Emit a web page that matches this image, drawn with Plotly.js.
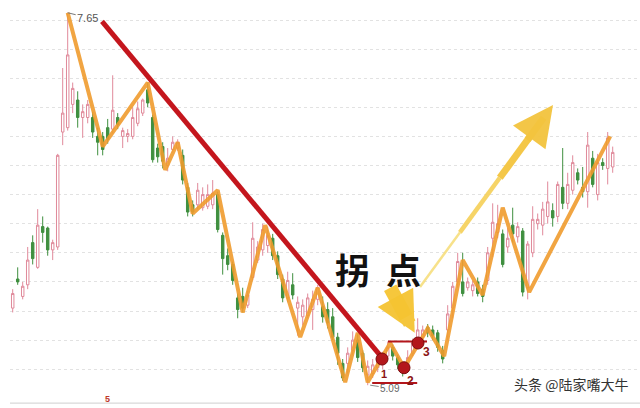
<!DOCTYPE html>
<html><head><meta charset="utf-8">
<script src="https://cdn.plot.ly/plotly-3.0.1.min.js"></script>
<style>html,body{margin:0;padding:0;background:#fff}#c{width:640px;height:408px}</style>
</head><body><div id="c"></div>
<script>
const opens  = [5.62,5.82,5.70,5.78,6.07,5.90,6.18,6.17,6.02,6.04,6.83,6.86,7.02,7.05,6.93,6.93,6.93,6.80,6.80,6.86,6.85,6.93,6.80,6.80,6.80,6.89,6.96,7.12,6.93,6.72,6.73,6.60,6.71,6.72,6.67,6.45,6.33,6.33,6.31,6.32,6.33,6.40,6.12,5.98,5.92,5.69,5.70,5.64,5.83,5.95,6.02,6.05,6.10,5.98,5.82,5.69,5.78,5.62,5.56,5.57,5.61,5.68,5.63,5.61,5.56,5.42,5.24,5.24,5.33,5.40,5.31,5.16,5.17,5.21,5.23,5.29,5.35,5.28,5.21,5.20,5.31,5.38,5.42,5.49,5.47,5.45,5.33,5.47,5.62,5.80,5.80,5.76,5.74,5.80,5.75,5.81,6.10,6.14,6.13,6.04,6.19,6.11,6.15,5.76,6.00,6.20,6.19,6.25,6.29,6.25,6.45,6.34,6.43,6.55,6.45,6.42,6.65,6.40,6.62,6.58,6.59];
const highs  = [5.75,5.90,5.80,6.04,6.12,6.30,6.25,6.18,6.09,6.68,7.27,7.65,7.17,7.11,7.02,7.05,6.97,6.86,6.83,6.92,7.22,6.96,6.86,6.85,7.00,7.04,7.06,7.17,6.95,6.75,6.76,6.72,6.80,6.78,6.71,6.48,6.36,6.48,6.45,6.47,6.50,6.42,6.14,6.03,5.94,5.72,5.76,5.74,6.21,6.08,6.20,6.18,6.13,6.01,5.85,5.87,5.86,5.70,5.68,5.72,5.74,5.78,5.70,5.66,5.62,5.45,5.27,5.35,5.46,5.44,5.33,5.26,5.27,5.30,5.32,5.39,5.37,5.30,5.24,5.33,5.41,5.55,5.50,5.51,5.50,5.47,5.36,5.64,5.80,6.00,6.00,5.83,5.81,5.83,5.78,6.04,6.34,6.33,6.16,6.17,6.31,6.21,6.17,6.08,6.32,6.27,6.35,6.49,6.34,6.49,6.72,6.55,6.67,6.58,6.59,6.83,6.70,6.68,6.65,6.83,6.73];
const lows   = [5.59,5.78,5.68,5.75,5.92,5.89,6.07,5.98,5.95,6.02,6.74,6.84,6.96,6.86,6.79,6.89,6.79,6.67,6.67,6.75,6.82,6.85,6.72,6.76,6.78,6.87,6.94,7.00,6.62,6.62,6.58,6.56,6.69,6.70,6.47,6.25,6.25,6.30,6.29,6.30,6.30,6.14,5.85,5.88,5.78,5.55,5.59,5.62,5.81,5.93,5.98,6.00,5.95,5.82,5.66,5.66,5.68,5.43,5.50,5.55,5.47,5.64,5.52,5.48,5.40,5.23,5.12,5.17,5.30,5.25,5.18,5.09,5.14,5.18,5.20,5.27,5.26,5.20,5.15,5.18,5.29,5.36,5.40,5.42,5.40,5.32,5.24,5.40,5.55,5.76,5.70,5.74,5.70,5.70,5.66,5.78,5.97,6.10,5.90,6.00,6.07,6.07,5.70,5.68,5.97,6.16,6.12,6.20,6.18,6.21,6.30,6.30,6.40,6.47,6.38,6.31,6.45,6.36,6.57,6.47,6.55];
const closes = [5.72,5.80,5.77,5.95,5.96,6.19,6.14,6.02,6.07,6.67,6.96,7.36,7.13,6.93,6.97,7.02,6.83,6.76,6.71,6.78,6.98,6.88,6.84,6.82,6.93,6.99,7.05,7.03,6.64,6.66,6.63,6.65,6.76,6.76,6.50,6.28,6.28,6.43,6.40,6.40,6.41,6.16,5.96,5.92,5.81,5.61,5.62,5.71,6.10,6.04,6.16,6.12,5.98,5.85,5.69,5.81,5.71,5.66,5.64,5.69,5.68,5.76,5.56,5.52,5.42,5.31,5.14,5.31,5.40,5.28,5.21,5.22,5.23,5.26,5.28,5.35,5.29,5.23,5.19,5.28,5.38,5.47,5.47,5.45,5.43,5.35,5.27,5.58,5.77,5.94,5.72,5.80,5.78,5.72,5.70,6.00,6.21,6.20,5.92,6.10,6.13,6.18,5.73,6.06,6.23,6.23,6.30,6.35,6.24,6.47,6.34,6.47,6.62,6.50,6.42,6.74,6.47,6.62,6.60,6.79,6.69];
const days = opens.map((_, i) => i);

// hand-drawn zigzag through swing points
const zigX = [11,18,27,30.5,33,36,41,46,50.5,57.5,61,66.5,69,71,75.5,78.3,83,86.3,90,94,98,103.3,119.5];
const zigY = [7.65,6.73,7.17,6.57,6.76,6.27,6.43,5.59,6.19,5.42,5.76,5.11,5.45,5.11,5.38,5.21,5.48,5.29,5.95,5.71,6.31,5.73,6.80];

// red downtrend line
const trendX = [17.86, 73.86];
const trendY = [7.59, 5.28];

// turning-point markers 1,2,3
const turnX = [73.86, 78.26, 81.06];
const turnY = [5.27, 5.21, 5.38];
const turnLabels = ['1','2','3'];

// rising arrow (tail -> head) and pointing arrow
const riseX = [81.46, 108.06];
const riseY = [5.765, 7.016];
const pointX = [75.5, 80.4];
const pointY = [5.76, 5.45];

const gridVals = [5.2,5.4,5.6,5.8,6.0,6.2,6.4,6.6,6.8,7.0,7.2,7.4,7.6];

function lerp(a, b, t) { return a + (b - a) * t; }
const seg = [0, 0.3, 0.6, 0.93];
const segW = [2.5, 4.5, 7];
const segC = ['rgba(246,222,125,0.9)', 'rgba(245,208,90,0.92)', 'rgba(243,196,62,0.95)'];

const traces = [
  {type:'candlestick', x:days, open:opens, high:highs, low:lows, close:closes,
   increasing:{line:{color:'#e0899a', width:1}, fillcolor:'#ffffff'},
   decreasing:{line:{color:'#3f8f3f', width:1}, fillcolor:'#3f8f3f'},
   whiskerwidth:0, hoverinfo:'skip', showlegend:false},
  {type:'scatter', mode:'lines', x:zigX, y:zigY,
   line:{color:'rgba(240,155,45,0.9)', width:4}, hoverinfo:'skip'},
  {type:'scatter', mode:'lines', x:trendX, y:trendY,
   line:{color:'#c4161d', width:5}, hoverinfo:'skip'},
  {type:'scatter', mode:'lines', x:[75.06,82.86], y:[5.39,5.39],
   line:{color:'#b3161b', width:2}, hoverinfo:'skip'},
  {type:'scatter', mode:'lines', x:[71.9,80.9], y:[5.105,5.105],
   line:{color:'#b3161b', width:2}, hoverinfo:'skip'},
  {type:'scatter', mode:'markers', x:turnX, y:turnY,
   marker:{color:'#b3161b', size:12, line:{color:'#7a0c0c', width:1}}, hoverinfo:'skip'}
];
for (let k = 0; k < 3; k++) {
  traces.push({type:'scatter', mode:'lines',
    x:[lerp(riseX[0], riseX[1], seg[k]), lerp(riseX[0], riseX[1], seg[k+1])],
    y:[lerp(riseY[0], riseY[1], seg[k]), lerp(riseY[0], riseY[1], seg[k+1])],
    line:{color:segC[k], width:segW[k]}, hoverinfo:'skip'});
}
// fat pointing arrow body
traces.push({type:'scatter', mode:'lines', x:[pointX[0], lerp(pointX[0], pointX[1], 0.65)],
  y:[pointY[0], lerp(pointY[0], pointY[1], 0.65)],
  line:{color:'rgba(245,196,50,0.95)', width:14}, hoverinfo:'skip'});

const annotations = [
  {x:11, y:7.65, xref:'x', yref:'y', text:'7.65', showarrow:true, ax:20, ay:5,
   arrowhead:0, arrowwidth:1, arrowcolor:'#777', font:{size:11, color:'#555', family:'Arial'}},
  {x:71.5, y:5.09, xref:'x', yref:'y', text:'5.09', showarrow:true, ax:20, ay:3,
   arrowhead:0, arrowwidth:1, arrowcolor:'#888', font:{size:10, color:'#666', family:'Arial'}},
  {x:73.06, y:5.895, xref:'x', yref:'y', text:'拐  点', showarrow:false,
   font:{size:35, color:'#111', family:'Noto Sans CJK SC', weight:700}},
  {x:74.3, y:5.17, xref:'x', yref:'y', text:turnLabels[0], showarrow:false, font:{size:11, color:'#8b1414', family:'Arial', weight:700}},
  {x:79.5, y:5.12, xref:'x', yref:'y', text:turnLabels[1], showarrow:false, font:{size:12, color:'#8b1414', family:'Arial', weight:700}},
  {x:82.7, y:5.32, xref:'x', yref:'y', text:turnLabels[2], showarrow:false, font:{size:12, color:'#8b1414', family:'Arial', weight:700}},
  {x:pointX[1], y:pointY[1], ax:lerp(pointX[0], pointX[1], 0.3), ay:lerp(pointY[0], pointY[1], 0.3),
   xref:'x', yref:'y', axref:'x', ayref:'y',
   text:'', showarrow:true, arrowhead:2, arrowsize:0.62, arrowwidth:13, arrowcolor:'rgba(245,196,50,0.95)'},
  {x:riseX[1], y:riseY[1], ax:lerp(riseX[0], riseX[1], 0.8), ay:lerp(riseY[0], riseY[1], 0.8),
   xref:'x', yref:'y', axref:'x', ayref:'y', text:'', showarrow:true,
   arrowhead:2, arrowsize:1.15, arrowwidth:7, arrowcolor:'rgba(243,196,62,0.95)'},
  {x:111.66, y:5.10, xref:'x', yref:'y', text:'头条 @陆家嘴大牛', showarrow:false,
   font:{size:14, color:'#333', family:'Noto Sans CJK SC'}},
  {x:18.86, y:4.995, xref:'x', yref:'y', text:'5', showarrow:false,
   font:{size:9, color:'#c0392b', family:'Arial', weight:700}}
];

const layout = {
  width:640, height:408, margin:{l:10, r:0, t:0, b:0},
  paper_bgcolor:'#ffffff', plot_bgcolor:'#ffffff', showlegend:false,
  xaxis:{range:[-0.54,125.46], visible:false, rangeslider:{visible:false}, fixedrange:true},
  yaxis:{range:[4.9333,7.7375], tickvals:gridVals, showticklabels:false, ticks:'',
         showgrid:true, gridcolor:'#e2e2e2', griddash:'dot', gridwidth:1,
         zeroline:false, showline:false, fixedrange:true},
  shapes:[{type:'line', xref:'paper', yref:'paper', x0:0, x1:1, y0:0.012, y1:0.012,
           line:{color:'#cfcfcf', width:1}}],
  annotations:annotations
};

Plotly.newPlot('c', traces, layout, {staticPlot:true, displayModeBar:false});
</script></body></html>
